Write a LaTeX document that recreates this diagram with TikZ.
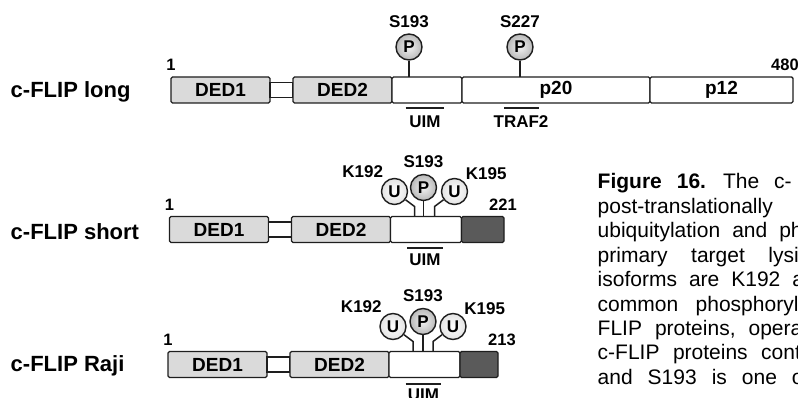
\documentclass[tikz,border=0pt]{standalone}
\usepackage{fontspec}
\setmainfont{Liberation Sans}
\usetikzlibrary{positioning}

\definecolor{dedgray}{HTML}{DADADA}
\definecolor{tailgray}{HTML}{5A5A5A}
\definecolor{edge}{HTML}{1E1E1E}
\newcommand{\fsz}[1]{\fontsize{#1}{#1}\selectfont}

\begin{document}
\begin{tikzpicture}[
    x=1pt, y=-1pt,
    line width=1.4pt,
    dom/.style={rectangle, draw=edge, inner sep=0pt, outer sep=0pt, minimum height=26pt, rounded corners=1.5pt, font=\fsz{19}\bfseries},
    ded/.style={dom, fill=dedgray, minimum width=99pt},
    linker/.style={dom, fill=white, minimum height=15pt, minimum width=23pt, rounded corners=0pt},
    seg/.style={dom, fill=white},
    tail/.style={dom, fill=tailgray},
    site/.style={circle, draw=edge, inner sep=0pt, minimum size=26pt, font=\fsz{17}\bfseries},
    phos/.style={site, inner color=gray!10, outer color=gray!55},
    ubq/.style={site, inner color=white, outer color=gray!22},
    stem/.style={draw=edge, line width=1.5pt},
    bar/.style={draw=edge, line width=2pt},
    rowlab/.style={anchor=base west, inner sep=0pt, font=\fsz{22}\bfseries},
    lab/.style={anchor=base, inner sep=0pt, font=\fsz{17}\bfseries},
    num/.style={anchor=base, inner sep=0pt, font=\fsz{16.5}\bfseries},
    captxt/.style={anchor=base west, inner sep=0pt, font=\fsz{21}}
]
    \useasboundingbox (0,0) rectangle (798,398);
    \clip (0,0) rectangle (798,398);

    % c-FLIP long
    \node[rowlab] (rowL) at (10,98) {c-FLIP long};
    \node[ded] (ded1L) at (220.5,90) {DED1};
    \node[linker, right=0pt of ded1L] (lnkL) {};
    \node[ded, right=0pt of lnkL] (ded2L) {DED2};
    \node[seg, minimum width=70pt, right=0pt of ded2L] (whL) {};
    \node[seg, minimum width=188pt, right=0pt of whL] (p20L) {p20};
    \node[seg, minimum width=143pt, right=0pt of p20L] (p12L) {p12};
    \node[num] (n1L) at ([yshift=6pt]ded1L.north west) {1};
    \node[num] (n480L) at ([xshift=-8pt,yshift=6pt]p12L.north east) {480};

    \node[phos] (s193L) at ([xshift=17pt,yshift=30pt]whL.north west) {P};
    \node[phos] (s227L) at ([xshift=58pt,yshift=30pt]p20L.north west) {P};
    \draw[stem] (s193L) -- (s193L |- whL.north);
    \draw[stem] (s227L) -- (s227L |- p20L.north);
    \node[lab] (t193L) at ([yshift=6pt]s193L.north) {S193};
    \node[lab] (t227L) at ([yshift=6pt]s227L.north) {S227};

    \node[lab] (uimtL) at ([xshift=-2pt,yshift=-25pt]whL.south) {UIM};
    \node[lab] (traftL) at ([xshift=59pt,yshift=-25pt]p20L.south west) {TRAF2};
    \draw[bar] ([xshift=-3pt,yshift=20pt]uimtL.base west) -- ([xshift=3pt,yshift=20pt]uimtL.base east);
    \draw[bar] ([xshift=-17pt,yshift=20pt]traftL.base) -- ([xshift=18pt,yshift=20pt]traftL.base);

    % c-FLIP short
    \node[rowlab] (rowS) at (10,240) {c-FLIP short};
    \node[ded] (ded1S) at (219,229.5) {DED1};
    \node[linker, right=0pt of ded1S] (lnkS) {};
    \node[ded, right=0pt of lnkS] (ded2S) {DED2};
    \node[seg, minimum width=71pt, right=0pt of ded2S] (whS) {};
    \node[tail, minimum width=42.5pt, right=0pt of whS] (tailS) {};
    \node[num] (n1S) at ([yshift=6pt]ded1S.north west) {1};
    \node[num] (n221S) at ([xshift=-1pt,yshift=6pt]tailS.north east) {221};

    \node[phos] (pS) at ([xshift=33pt,yshift=29pt]whS.north west) {P};
    \node[ubq] (u1S) at ([xshift=4pt,yshift=25pt]whS.north west) {U};
    \node[ubq] (u2S) at ([xshift=64pt,yshift=25pt]whS.north west) {U};
    \coordinate (k1S) at ([xshift=20pt,yshift=-15pt]u1S.center);
    \coordinate (k2S) at ([xshift=-20pt,yshift=-15pt]u2S.center);
    \draw[stem] (pS) -- (pS |- whS.north);
    \draw[stem] (u1S) -- (k1S) -- (k1S |- whS.north);
    \draw[stem] (u2S) -- (k2S) -- (k2S |- whS.north);
    \node[lab] (t193S) at ([yshift=6pt]pS.north) {S193};
    \node[lab, anchor=base east] (t192S) at ([xshift=-1pt,yshift=4.5pt]u1S.north west) {K192};
    \node[lab, anchor=base west] (t195S) at ([xshift=1pt,yshift=2pt]u2S.north east) {K195};

    \node[lab] (uimtS) at ([xshift=-1pt,yshift=-23pt]whS.south) {UIM};
    \draw[bar] ([xshift=-1.5pt,yshift=17pt]uimtS.base west) -- ([xshift=1.5pt,yshift=17pt]uimtS.base east);

    % c-FLIP Raji
    \node[rowlab] (rowR) at (10,371) {c-FLIP Raji};
    \node[ded] (ded1R) at (217.5,364.5) {DED1};
    \node[linker, right=0pt of ded1R] (lnkR) {};
    \node[ded, right=0pt of lnkR] (ded2R) {DED2};
    \node[seg, minimum width=71pt, right=0pt of ded2R] (whR) {};
    \node[tail, minimum width=38pt, right=0pt of whR] (tailR) {};
    \node[num] (n1R) at ([yshift=6pt]ded1R.north west) {1};
    \node[num] (n213R) at ([xshift=4pt,yshift=6pt]tailR.north east) {213};

    \node[phos] (pR) at ([xshift=34pt,yshift=30pt]whR.north west) {P};
    \node[ubq] (u1R) at ([xshift=4pt,yshift=25pt]whR.north west) {U};
    \node[ubq] (u2R) at ([xshift=64pt,yshift=25pt]whR.north west) {U};
    \coordinate (k1R) at ([xshift=20pt,yshift=-15pt]u1R.center);
    \coordinate (k2R) at ([xshift=-20pt,yshift=-15pt]u2R.center);
    \draw[stem] (pR) -- (pR |- whR.north);
    \draw[stem] (u1R) -- (k1R) -- (k1R |- whR.north);
    \draw[stem] (u2R) -- (k2R) -- (k2R |- whR.north);
    \node[lab] (t193R) at ([yshift=6pt]pR.north) {S193};
    \node[lab, anchor=base east] (t192R) at ([xshift=-1pt,yshift=4.5pt]u1R.north west) {K192};
    \node[lab, anchor=base west] (t195R) at ([xshift=1pt,yshift=2pt]u2R.north east) {K195};

    \node[lab] (uimtR) at ([xshift=-1pt,yshift=-23pt]whR.south) {UIM};
    \draw[bar] ([xshift=-1.5pt,yshift=17pt]uimtR.base west) -- ([xshift=1.5pt,yshift=17pt]uimtR.base east);

    % caption, cut at the right edge
    \foreach \sk/\txt [count=\i] in {
        15/{\textbf{Figure 16.} The c-},
        6/{post-translationally},
        12/{ubiquitylation and ph},
        23.5/{primary target lysi},
        12/{isoforms are K192 a},
        17.5/{common phosphoryl},
        13/{FLIP proteins, opera},
        13.5/{c-FLIP proteins cont},
        15/{and S193 is one o}}
        \node[captxt] (cap\i) at (597,164.6+24.4*\i) {\spaceskip=\sk pt\relax\txt};
\end{tikzpicture}
\end{document}
